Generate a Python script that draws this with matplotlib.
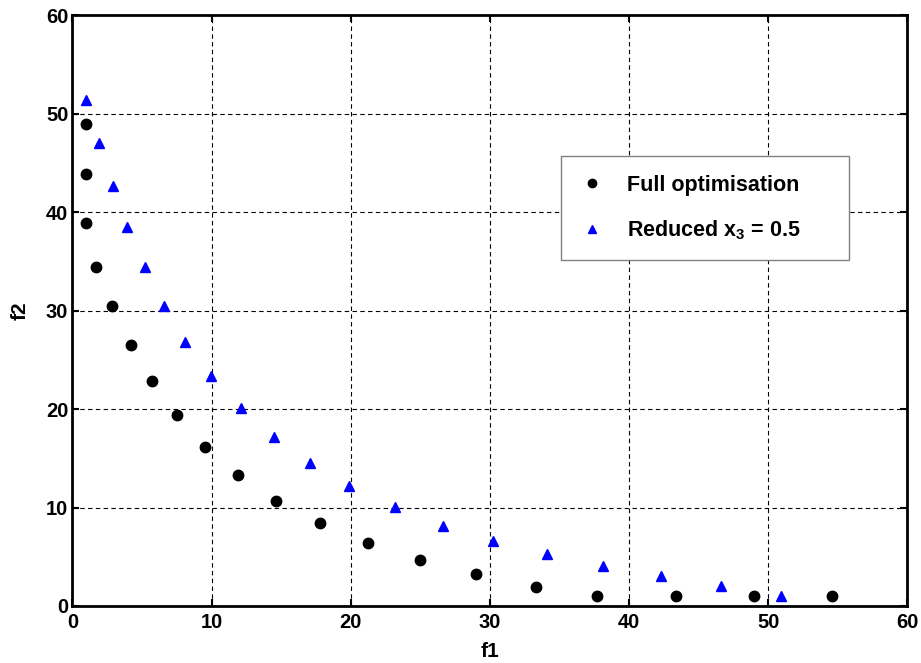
import matplotlib
matplotlib.use('Agg')
import matplotlib.pyplot as plt

# Pareto front
full_f1 = [1.0, 1.0, 1.0, 1.7, 2.85, 4.2, 5.7, 7.5, 9.5, 11.9, 14.6, 17.8,
           21.2, 25.0, 29.0, 33.3, 37.7, 43.35, 49.0, 54.6]
full_f2 = [49.0, 43.9, 38.85, 34.4, 30.45, 26.55, 22.85, 19.4, 16.1, 13.3, 10.7, 8.4,
           6.4, 4.7, 3.25, 1.95, 1.0, 1.0, 1.0, 1.0]

red_f1 = [1.0, 1.9, 2.9, 3.95, 5.2, 6.55, 8.1, 9.95, 12.1, 14.5, 17.1, 19.9,
          23.2, 26.6, 30.2, 34.1, 38.1, 42.3, 46.6, 50.9]
red_f2 = [51.4, 47.0, 42.7, 38.45, 34.45, 30.5, 26.8, 23.35, 20.1, 17.2, 14.5, 12.2,
          10.05, 8.1, 6.6, 5.3, 4.1, 3.05, 2.05, 1.05]

plt.rcParams['font.family'] = ['Liberation Sans', 'DejaVu Sans']
plt.rcParams['font.weight'] = 'bold'
plt.rcParams['mathtext.fontset'] = 'custom'
plt.rcParams['mathtext.rm'] = 'Liberation Sans:bold'
plt.rcParams['mathtext.it'] = 'Liberation Sans:bold'
plt.rcParams['mathtext.bf'] = 'Liberation Sans:bold'

fig = plt.figure(figsize=(9.21, 6.63), dpi=100)
ax = fig.add_axes([0.0787, 0.086, 0.9066, 0.891])

ax.plot(full_f1, full_f2, 'o', color='black', markersize=7.5, label='Full optimisation', zorder=3)
ax.plot(red_f1, red_f2, '^', color='blue', markersize=7, label='Reduced $\\mathrm{x_3}$ = 0.5', zorder=3)

ax.set_xlim(0, 60)
ax.set_ylim(0, 60)
ax.set_xticks(range(0, 61, 10))
ax.set_yticks(range(0, 61, 10))
ax.grid(True, color='black', linestyle=(0, (4, 3)), linewidth=0.8)
ax.set_axisbelow(True)
ax.tick_params(direction='in', length=5, width=1.5, top=True, right=True,
               labelsize=14.5)
ax.tick_params(axis='x', pad=5)
ax.tick_params(axis='y', pad=3)
for lab in ax.get_xticklabels() + ax.get_yticklabels():
    lab.set_fontweight('bold')
for sp in ax.spines.values():
    sp.set_linewidth(2)

ax.set_xlabel('f1', fontsize=15, fontweight='bold', labelpad=7)
ax.set_ylabel('f2', fontsize=15, fontweight='bold', labelpad=12)

leg = ax.legend(loc='upper left', bbox_to_anchor=(0.585, 0.761, 0.345, 0.0), mode='expand',
                fontsize=15.5, frameon=True, fancybox=False, markerscale=0.8,
                handlelength=1.2, handletextpad=1.0, labelspacing=1.05,
                borderpad=0.85, borderaxespad=0)
leg.get_frame().set_edgecolor('#808080')
leg.get_frame().set_linewidth(1)
leg.get_frame().set_alpha(1)

fig.savefig('out.png', dpi=100)
